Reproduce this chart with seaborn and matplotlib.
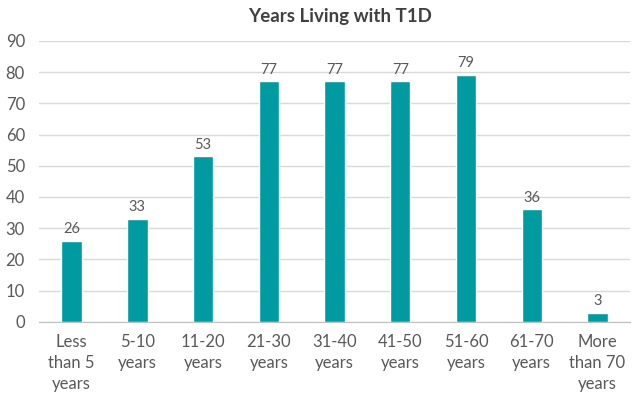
import matplotlib
matplotlib.use("Agg")
import matplotlib.pyplot as plt
import seaborn as sns
import numpy as np
import pandas as pd

# Data
categories = ["Less\nthan 5\nyears", "5-10\nyears", "11-20\nyears", "21-30\nyears",
              "31-40\nyears", "41-50\nyears", "51-60\nyears", "61-70\nyears",
              "More\nthan 70\nyears"]
counts = [26, 33, 53, 77, 77, 77, 79, 36, 3]

sns.set_style("white")
plt.rcParams['font.family'] = ['Lato', 'DejaVu Sans']

df = pd.DataFrame({'Category': categories, 'Count': counts})

fig = plt.figure(figsize=(6.36, 4.08), dpi=100)
ax = fig.add_axes([0.061, 0.211, 0.930, 0.689])

bar_color = '#009BA1'
text_color = '#595959'

sns.barplot(data=df, x='Category', y='Count', color=bar_color, width=0.31,
            saturation=1, ax=ax)

# Value labels
for i, v in enumerate(counts):
    ax.text(i, v + 1.5, str(v), ha='center', va='bottom', fontsize=10.5, color=text_color)

ax.set_ylim(0, 90)
ax.set_xlim(-0.5, len(categories) - 0.5)
ax.set_yticks(np.arange(0, 91, 10))
ax.yaxis.grid(True, color='#d9d9d9', linewidth=1)
ax.set_axisbelow(True)

# Category boundary ticks
ax.set_xticks(np.arange(-0.5, len(categories)), minor=True)
ax.tick_params(axis='x', which='minor', length=6, color='#bfbfbf', width=1)
ax.tick_params(axis='x', which='major', length=0, pad=9, labelsize=12, labelcolor=text_color)
ax.tick_params(axis='y', length=0, pad=10, labelsize=12, labelcolor=text_color)
for lbl in ax.get_xticklabels():
    lbl.set_linespacing(1.35)

for s in ['top', 'right', 'left']:
    ax.spines[s].set_visible(False)
ax.spines['bottom'].set_color('#bfbfbf')

ax.set_xlabel('')
ax.set_ylabel('')

fig.text(0.535, 0.98, 'Years Living with T1D', ha='center', va='top',
         fontsize=13.5, fontweight='bold', color='#404040')

plt.savefig('out.png', dpi=100)
plt.close()
